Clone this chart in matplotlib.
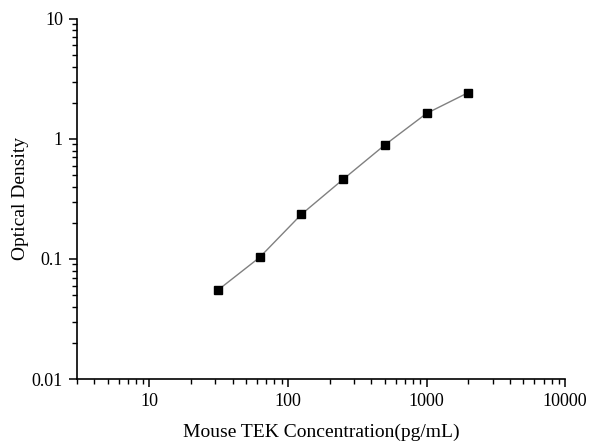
import numpy as np
import matplotlib
matplotlib.use("Agg")
import matplotlib.pyplot as plt
from matplotlib.ticker import LogLocator, FixedLocator, FixedFormatter, NullFormatter

plt.rcParams['font.family'] = ['Liberation Serif', 'DejaVu Serif']

conc = [31.25, 62.5, 125, 250, 500, 1000, 2000]
od = [0.055, 0.103, 0.235, 0.46, 0.89, 1.63, 2.43]
xticks = [10, 100, 1000, 10000]
xlabels = ["10", "100", "1000", "10000"]
yticks = [0.01, 0.1, 1, 10]
ylabels = ["0.01", "0.1", "1", "10"]

fig = plt.figure(figsize=(6, 4.48), dpi=100)
ax = fig.add_axes([0.128, 0.154, 0.814, 0.804])

ax.plot(conc, od, color='#808080', lw=1, zorder=1)
ax.plot(conc, od, ls='none', marker='s', ms=6, color='black', zorder=2)

ax.set_xscale('log')
ax.set_yscale('log')
ax.set_xlim(3, 10000)
ax.set_ylim(0.01, 10)

ax.xaxis.set_major_locator(FixedLocator(xticks))
ax.xaxis.set_major_formatter(FixedFormatter(xlabels))
ax.yaxis.set_major_locator(FixedLocator(yticks))
ax.yaxis.set_major_formatter(FixedFormatter(ylabels))
ax.xaxis.set_minor_locator(LogLocator(base=10, subs=np.arange(2, 10)))
ax.yaxis.set_minor_locator(LogLocator(base=10, subs=np.arange(2, 10)))
ax.xaxis.set_minor_formatter(NullFormatter())
ax.yaxis.set_minor_formatter(NullFormatter())

for s in ['top', 'right']:
    ax.spines[s].set_visible(False)
ax.spines['left'].set_linewidth(1.2)
ax.spines['bottom'].set_linewidth(1.2)
ax.tick_params(which='major', direction='out', length=6, width=1.1, labelsize=13, pad=4)
ax.tick_params(which='minor', direction='out', length=3.5, width=1)

ax.set_xlabel("Mouse TEK Concentration(pg/mL)", fontsize=14, labelpad=10)
ax.set_ylabel("Optical Density", fontsize=14, labelpad=2)

fig.savefig("out.png", dpi=100)
